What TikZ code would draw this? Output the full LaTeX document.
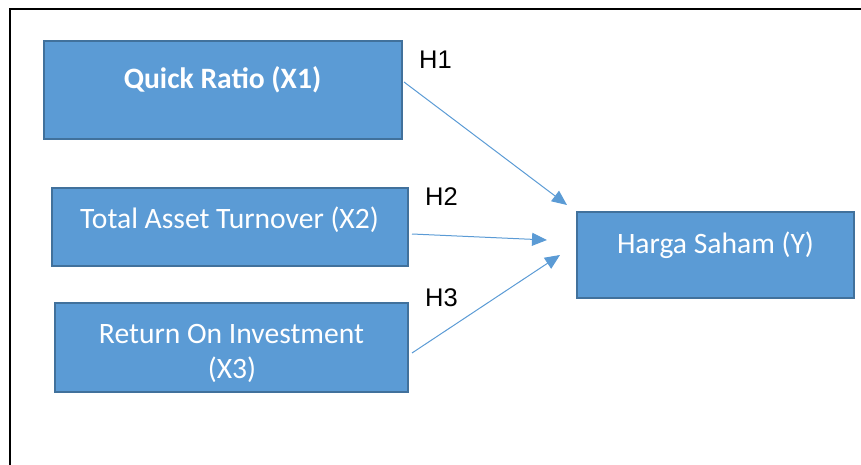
\documentclass[tikz,border=0pt]{standalone}
\usepackage{fontspec}
\setmainfont{Carlito}
\newfontfamily\hfont{Liberation Sans}
\usetikzlibrary{arrows.meta}
\definecolor{boxfill}{HTML}{5B9BD5}
\definecolor{boxedge}{HTML}{41719C}
\begin{document}
\begin{tikzpicture}[x=1pt,y=-1pt,
  varbox/.style={draw=boxedge,line width=2pt,fill=boxfill,inner sep=0pt,rectangle},
  boxtext/.style={anchor=base,text=white,inner sep=0pt,font=\fontsize{29.6}{35}\selectfont},
  hyplabel/.style={anchor=base west,inner sep=0pt,font=\hfont\fontsize{25.5}{30}\selectfont},
  link/.style={draw=boxfill,line width=1pt,-{Triangle[length=15pt,width=13pt]}}]
\useasboundingbox (0,0) rectangle (861,465);
% open frame: top and left edges only
\draw[line width=2.5pt] (10,465) -- (10,9) -- (861,9);

% variable boxes
\node[varbox,minimum width=358pt,minimum height=98pt] (x1) at (223,90) {};
\node[varbox,minimum width=356pt,minimum height=78pt] (x2) at (230,227) {};
\node[varbox,minimum width=353pt,minimum height=89pt] (x3) at (231.5,347.5) {};
\node[varbox,minimum width=277pt,minimum height=86pt] (y) at (715.5,255) {};

% box captions
\node[boxtext,font=\bfseries\fontsize{29.6}{35}\selectfont] (t1) at (222.5,89) {Quick Ratio (X1)};
\node[boxtext] (t2) at (229.5,228) {Total Asset Turnover (X2)};
\node[boxtext] (t3a) at (231.5,343) {Return On Investment};
\node[boxtext] (t3b) at (232,378) {(X3)};
\node[boxtext] (ty) at (715.5,253) {Harga Saham (Y)};

% hypothesis labels
\node[hyplabel] (h1) at (419,69) {H1};
\node[hyplabel] (h2) at (425,205) {H2};
\node[hyplabel] (h3) at (425,306) {H3};

% arrow end points
\coordinate (s1) at (404,82);
\coordinate (e1) at (567,205);
\coordinate (s2) at (412,234);
\coordinate (e2) at (547,240);
\coordinate (s3) at (412,353);
\coordinate (e3) at (560,255);

\draw[link] (s1) -- (e1);
\draw[link] (s2) -- (e2);
\draw[link] (s3) -- (e3);
\end{tikzpicture}
\end{document}
